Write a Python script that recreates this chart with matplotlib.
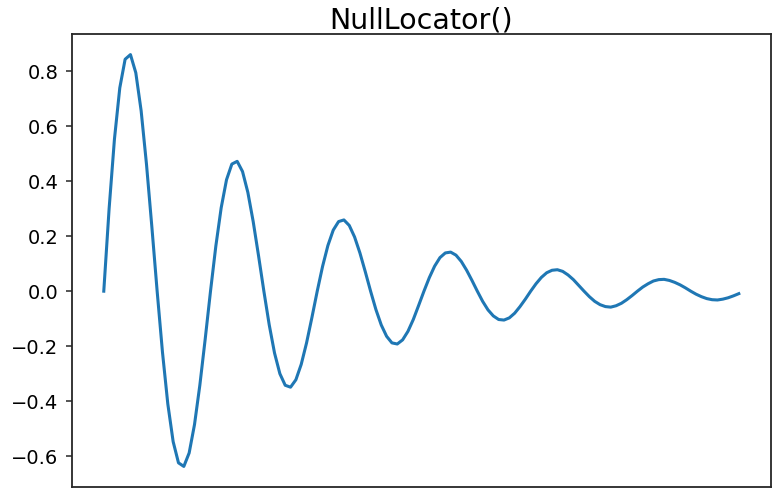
import matplotlib
matplotlib.use("Agg")
import matplotlib.pyplot as plt
from matplotlib import ticker

# damped oscillation, values
y_values = [
    0.000, 0.300, 0.553, 0.739, 0.843, 0.860, 0.794, 0.656, 0.462, 0.236,
    0.000, -0.222, -0.410, -0.547, -0.624, -0.637, -0.588, -0.485, -0.342, -0.175,
    0.000, 0.164, 0.303, 0.405, 0.462, 0.472, 0.435, 0.359, 0.253, 0.129,
    0.000, -0.122, -0.225, -0.300, -0.342, -0.349, -0.322, -0.266, -0.188, -0.096,
    0.000, 0.090, 0.166, 0.222, 0.253, 0.259, 0.239, 0.197, 0.139, 0.071,
    0.000, -0.067, -0.123, -0.164, -0.188, -0.192, -0.177, -0.146, -0.103, -0.052,
    0.000, 0.049, 0.091, 0.122, 0.139, 0.142, 0.131, 0.108, 0.076, 0.039,
    0.000, -0.037, -0.068, -0.090, -0.103, -0.105, -0.097, -0.080, -0.056, -0.029,
    0.000, 0.027, 0.050, 0.067, 0.076, 0.078, 0.072, 0.059, 0.042, 0.021,
    0.000, -0.020, -0.037, -0.049, -0.056, -0.058, -0.053, -0.044, -0.031, -0.016,
    0.000, 0.015, 0.027, 0.037, 0.042, 0.043, 0.039, 0.032, 0.023, 0.012,
    0.000, -0.011, -0.020, -0.027, -0.031, -0.032, -0.029, -0.024, -0.017, -0.009,
]
x_values = list(range(len(y_values)))
y_ticks = [-0.6, -0.4, -0.2, 0.0, 0.2, 0.4, 0.6, 0.8]
title = "NullLocator()"

fig = plt.figure(figsize=(7.77, 5.03), dpi=100)
ax = fig.add_axes([0.0927, 0.0318, 0.899, 0.9006])
ax.plot(x_values, y_values, color="#1f77b4", linewidth=2.2)

ax.xaxis.set_major_locator(ticker.NullLocator())
ax.set_yticks(y_ticks)
ax.tick_params(axis="y", labelsize=14, length=4.5, width=1.1, pad=5.5, color="#262626")
ax.set_title(title, fontsize=20.5, pad=4)
for spine in ax.spines.values():
    spine.set_linewidth(1.3)
    spine.set_color("#262626")

fig.savefig("out.png", dpi=100)
